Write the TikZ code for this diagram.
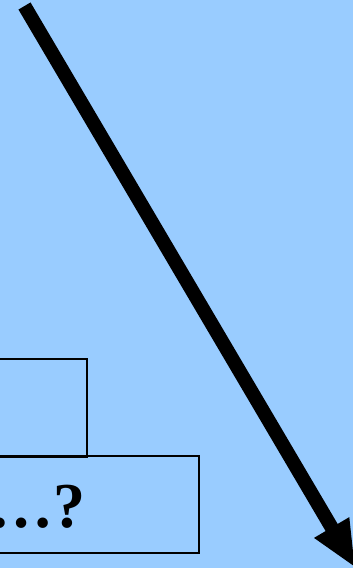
\documentclass[tikz,border=0pt]{standalone}
\usepackage{fontspec}
\setmainfont{Liberation Serif}
\usepackage{tikz}
\usetikzlibrary{arrows.meta,positioning}
\definecolor{skyblue}{HTML}{99CCFF}
\tikzset{
  panel/.style={
    rectangle, draw=black, line width=1.6pt, fill=none,
    inner sep=0pt
  },
  bigarrow/.style={
    line width=14pt, color=black,
    -{Triangle[length=47pt,width=37pt]}
  },
  querytext/.style={
    font=\fontsize{64}{64}\selectfont\bfseries, inner sep=0pt
  },
}
\begin{document}
\begin{tikzpicture}[x=1pt,y=-1pt]
  % Frame and background
  \useasboundingbox (0,0) rectangle (353,568);
  \clip (0,0) rectangle (353,568);
  \fill[skyblue] (0,0) rectangle (353,568);

  % Boxes at the lower left
  \node[panel, minimum width=108pt, minimum height=98pt, anchor=north east] (upperbox) at (88,358) {};
  \node[panel, minimum width=220pt, minimum height=97pt, anchor=north east] (lowerbox) at (200,455) {};
  \node[querytext, anchor=base west] (query) at (-10.7,527) {…?};

  % Diagonal arrow
  \coordinate (start) at (24.5,6);
  \coordinate (tip) at (355.5,568);
  \draw[bigarrow] (start) -- (tip);
\end{tikzpicture}
\end{document}
